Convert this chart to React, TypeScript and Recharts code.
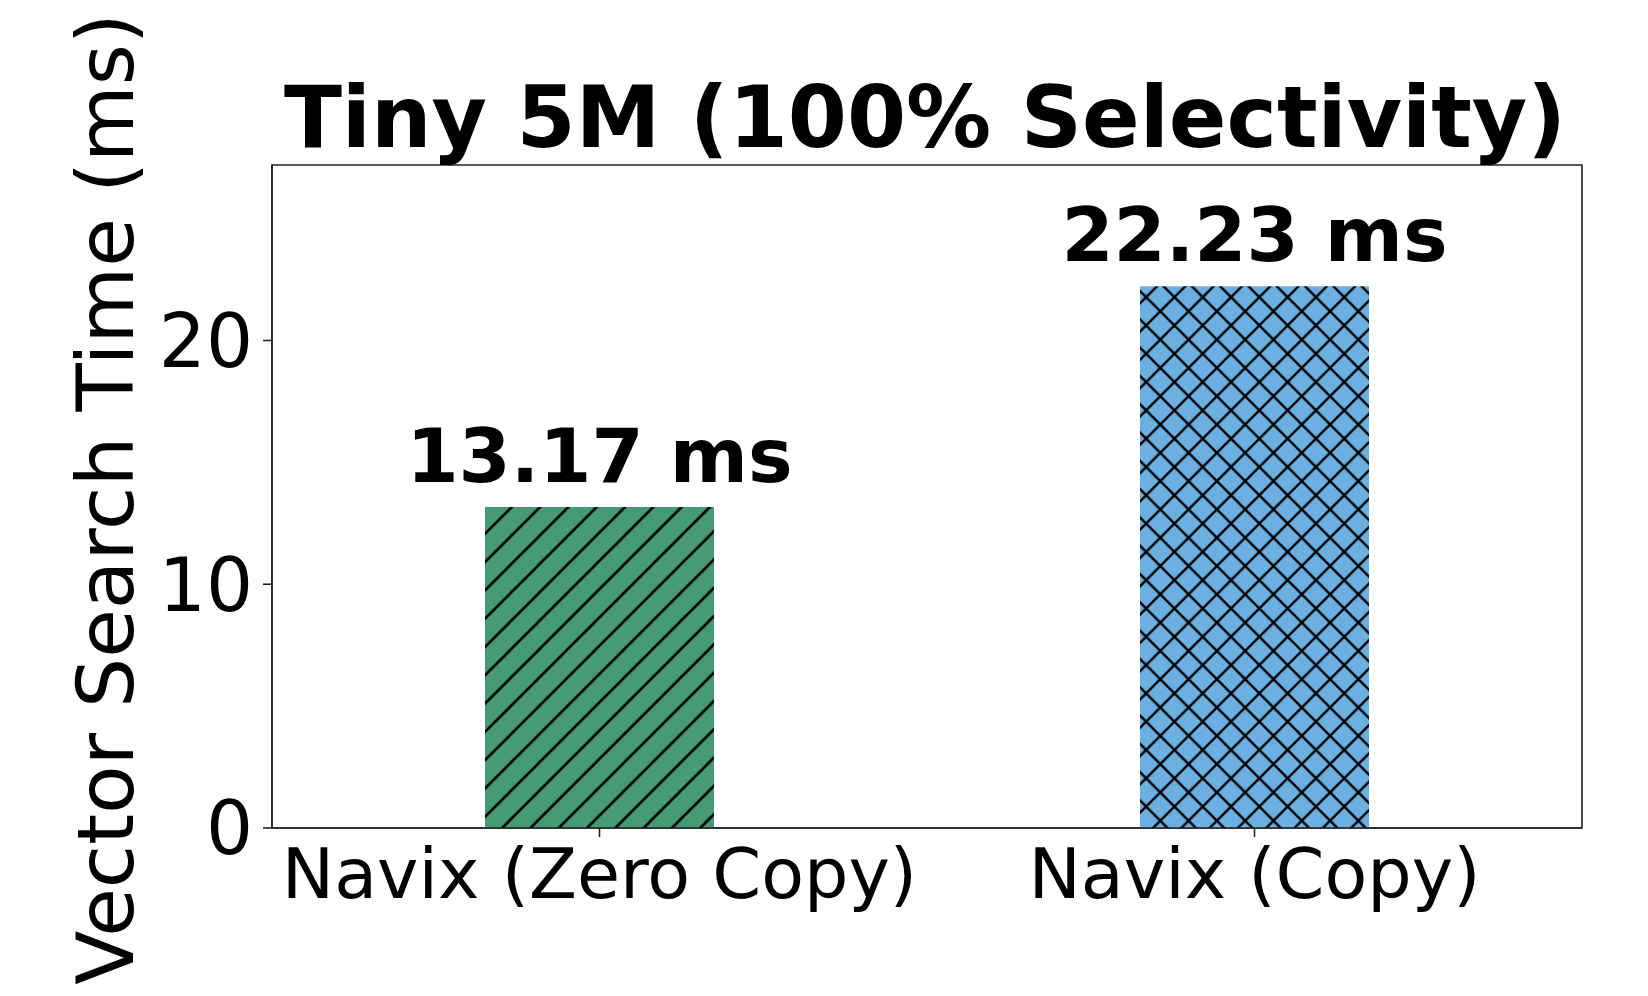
import { Bar, BarChart, Cell, LabelList, ReferenceArea, XAxis, YAxis } from "recharts";

const categories = ["Navix (Zero Copy)", "Navix (Copy)"];
const searchTimes = [13.17, 22.23];
const barFills = ["url(#hatch-diag)", "url(#hatch-cross)"];
const yTicks = [0, 10, 20];

const data = categories.map((name, i) => ({ name, ms: searchTimes[i] }));

const FONT = "DejaVu Sans, sans-serif";
const AXIS = "#222";
const Y_MAX = 27.2;
const T = 28.3; // hatch tile

/** Hatch tiles like matplotlib's "//" and "xx" */
function HatchDefs() {
  const fwd = `M0,${T} L${T},0 M${-T / 2},${T / 2} L${T / 2},${-T / 2} M${T / 2},${T * 1.5} L${T * 1.5},${T / 2}`;
  const back = `M0,0 L${T},${T} M${-T / 2},${T / 2} L${T / 2},${T * 1.5} M${T / 2},${-T / 2} L${T * 1.5},${T / 2}`;
  return (
    <svg width={0} height={0} style={{ position: "absolute" }}>
      <defs>
        <pattern id="hatch-diag" patternUnits="userSpaceOnUse" width={T} height={T}>
          <rect width={T} height={T} fill="#479b74" />
          <path d={fwd} stroke="#000" strokeWidth={2.6} />
        </pattern>
        <pattern id="hatch-cross" patternUnits="userSpaceOnUse" width={T} height={T}>
          <rect width={T} height={T} fill="#6cb0e2" />
          <path d={fwd + " " + back} stroke="#000" strokeWidth={2.4} />
        </pattern>
      </defs>
    </svg>
  );
}

export default function App() {
  return (
    <div style={{ position: "relative", width: 1648, height: 996, background: "#fff" }}>
      <style>{"body{margin:0}"}</style>
      <HatchDefs />
      <BarChart
        width={1648}
        height={996}
        data={data}
        margin={{ top: 165, right: 66, bottom: 68, left: 72 }}
      >
        <XAxis
          dataKey="name"
          height={100}
          tickSize={9}
          tickMargin={11}
          stroke={AXIS}
          axisLine={{ stroke: AXIS, strokeWidth: 1.6 }}
          tickLine={{ stroke: AXIS, strokeWidth: 1.6 }}
          tick={{ fill: "#000", fontSize: 70, fontFamily: FONT }}
        />
        <YAxis
          width={200}
          domain={[0, Y_MAX]}
          ticks={yTicks}
          tickSize={9}
          tickMargin={10}
          axisLine={{ stroke: AXIS, strokeWidth: 1.6 }}
          tickLine={{ stroke: AXIS, strokeWidth: 1.6 }}
          tick={{ fill: "#000", fontSize: 74, fontFamily: FONT }}
        />
        <Bar dataKey="ms" barSize={229} isAnimationActive={false}>
          {data.map((d, i) => (
            <Cell key={d.name} fill={barFills[i]} />
          ))}
          <LabelList
            dataKey="ms"
            position="top"
            offset={25}
            formatter={(v: number) => `${Number(v).toFixed(2)} ms`}
            style={{ fill: "#000", fontSize: 75, fontWeight: "bold", fontFamily: FONT }}
          />
        </Bar>
        {/* axes frame (top + right spines) */}
        <ReferenceArea
          y1={0}
          y2={Y_MAX}
          fill="none"
          fillOpacity={0}
          stroke={AXIS}
          strokeWidth={1.6}
          ifOverflow="visible"
        />
      </BarChart>
      <svg
        width={1648}
        height={996}
        style={{ position: "absolute", left: 0, top: 0, pointerEvents: "none" }}
      >
        <text
          x={925}
          y={147}
          textAnchor="middle"
          fontFamily={FONT}
          fontWeight="bold"
          fontSize={85}
          fill="#000"
        >
          Tiny 5M (100% Selectivity)
        </text>
        <text
          x={133}
          y={499}
          transform="rotate(-90 133 499)"
          textAnchor="middle"
          fontFamily={FONT}
          fontSize={79}
          fill="#000"
        >
          Vector Search Time (ms)
        </text>
      </svg>
    </div>
  );
}
